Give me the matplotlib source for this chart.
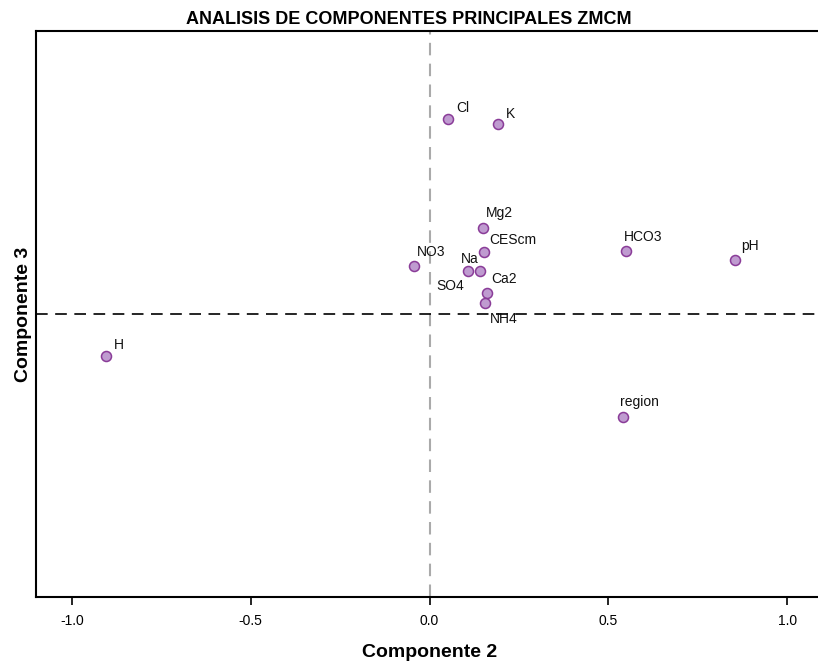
'''
Biplot of PCA loadings (Componente 2 vs Componente 3)
'''
import matplotlib
matplotlib.use('Agg')
import matplotlib.pyplot as plt

plt.rcParams['font.family'] = ['Liberation Sans', 'DejaVu Sans']

# Variables and their loadings
variables = ['Cl', 'K', 'Mg2', 'CEScm', 'NO3', 'Na', 'SO4', 'Ca2', 'NH4',
             'HCO3', 'pH', 'region', 'H']
comp2 = [0.053, 0.191, 0.150, 0.153, -0.043, 0.109, 0.142, 0.162, 0.154,
         0.548, 0.854, 0.540, -0.904]
comp3 = [0.551, 0.538, 0.243, 0.174, 0.135, 0.121, 0.121, 0.060, 0.030,
         0.177, 0.154, -0.291, -0.118]

# Label offsets in pixels (left edge, baseline) relative to each point
label_offsets = [(8, 7), (8, 6), (3, 11), (5, 8), (3, 10), (-8, 8), (-44, -19),
                 (4, 10), (5, -20), (-2, 10), (6, 10), (-3, 11), (8, 7)]

xticks = [-1.0, -0.5, 0.0, 0.5, 1.0]

fig = plt.figure(figsize=(8.18, 6.64), dpi=100)
ax = fig.add_axes([36 / 818, 67 / 664, 787 / 818, 566 / 664])

# Reference lines
ax.axvline(0, color='#aaaaaa', linestyle=(0, (6, 4)), linewidth=1.5, zorder=1)
ax.axhline(0, color='black', linestyle=(0, (7, 4.5)), linewidth=1.2, zorder=1)

# Points
ax.scatter(comp2, comp3, s=52, facecolor='#bf9bd0', edgecolor='#8a3c98',
           linewidth=1.1, zorder=3)

# Labels
for name, x, y, (dx, dy) in zip(variables, comp2, comp3, label_offsets):
    ax.annotate(name, (x, y), xytext=(dx, dy), textcoords='offset pixels',
                ha='left', va='baseline', fontsize=10, color='#111111')

ax.set_xlim(-1.1, 1.1)
ax.set_ylim(-0.8, 0.8)
ax.set_xticks(xticks)
ax.set_xticklabels([f'{t:.1f}' for t in xticks])
ax.set_yticks([])
ax.tick_params(axis='x', direction='out', length=6, width=1.2, labelsize=10, pad=6)

for side in ['left', 'bottom', 'top']:
    ax.spines[side].set_linewidth(1.5)
ax.spines['right'].set_visible(False)

ax.set_xlabel('Componente 2', fontsize=14, fontweight='bold', labelpad=12)
ax.set_ylabel('Componente 3', fontsize=14, fontweight='bold', labelpad=3)
fig.text(0.5, 1 - 24 / 664, 'ANALISIS DE COMPONENTES PRINCIPALES ZMCM',
         fontsize=13, fontweight='bold', ha='center', va='baseline')

fig.savefig('out.png', dpi=100)
